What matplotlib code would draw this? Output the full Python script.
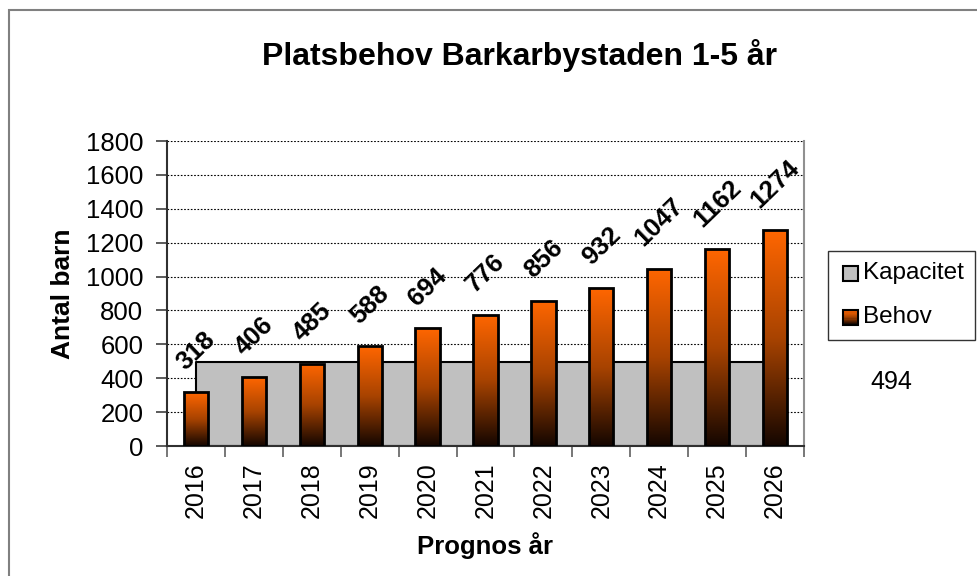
import numpy as np
import matplotlib
matplotlib.use("Agg")
import matplotlib.pyplot as plt
from matplotlib.colors import LinearSegmentedColormap
from matplotlib.patches import Rectangle
from matplotlib.legend_handler import HandlerBase

plt.rcParams['font.family'] = ['Liberation Sans', 'DejaVu Sans']

years = ['2016', '2017', '2018', '2019', '2020', '2021',
         '2022', '2023', '2024', '2025', '2026']
behov = [318, 406, 485, 588, 694, 776, 856, 932, 1047, 1162, 1274]
kapacitet = [494] * len(years)

grad = LinearSegmentedColormap.from_list(
    'behov', [(0.0, '#140600'), (0.5, '#A84300'), (1.0, '#FF6600')])


class GradientHandler(HandlerBase):
    # legend square with the same dark-to-orange fade as the bars
    def create_artists(self, legend, orig, xd, yd, w, h, fontsize, trans):
        s = min(w, h)
        x0 = xd + w - s
        arts = []
        n = 12
        for i in range(n):
            r = Rectangle((x0, yd + s * i / n), s, s / n + 0.2,
                          facecolor=grad((i + 0.5) / n), edgecolor='none',
                          transform=trans)
            arts.append(r)
        arts.append(Rectangle((x0, yd), s, s, facecolor='none',
                              edgecolor='black', lw=1.5, transform=trans))
        return arts


class SquareHandler(HandlerBase):
    def create_artists(self, legend, orig, xd, yd, w, h, fontsize, trans):
        s = min(w, h)
        x0 = xd + w - s
        return [Rectangle((x0, yd), s, s, facecolor='#C0C0C0',
                          edgecolor='black', lw=1.5, transform=trans)]


fig = plt.figure(figsize=(9.78, 5.76), dpi=100)
ax = fig.add_axes([167 / 978, 1 - 446 / 576, 637 / 978, 305 / 576])

x = np.arange(len(years))

# capacity as a grey area behind the bars
area = ax.fill_between(x, 0, kapacitet, facecolor='#C0C0C0',
                       edgecolor='black', lw=1.5, zorder=2)

bars = ax.bar(x, behov, width=0.42, facecolor='none', edgecolor='black',
              lw=2, zorder=4)
g = np.linspace(0, 1, 256).reshape(-1, 1)
for b in bars:
    bx, bw, bh = b.get_x(), b.get_width(), b.get_height()
    im = ax.imshow(g, extent=(bx, bx + bw, 0, bh), origin='lower',
                   aspect='auto', cmap=grad, zorder=3)
    im.set_clip_path(b)

for xi, v in zip(x, behov):
    ax.annotate(str(v), (xi, v), xytext=(0, 18), textcoords='offset pixels',
                ha='center', va='bottom', rotation=44, fontsize=18.5,
                fontweight='bold', zorder=5)

ax.set_xlim(-0.5, len(years) - 0.5)
ax.set_ylim(0, 1800)
ax.set_yticks(range(0, 1801, 200))
ax.set_xticks(x)
ax.set_xticklabels(years, rotation=90)
ax.set_xticks(np.arange(-0.5, len(years), 1), minor=True)
ax.tick_params(axis='x', which='major', length=0, pad=12, labelsize=18)
ax.tick_params(axis='x', which='minor', length=16, direction='inout',
               color='#606060', width=1.2)
ax.tick_params(axis='y', length=8, direction='out', color='#404040',
               width=1.2, labelsize=18.5, pad=9)

ax.grid(axis='y', linestyle=(0, (1.5, 1.5)), color='black', lw=0.8, zorder=1)
ax.set_axisbelow(True)

for side in ['left', 'bottom']:
    ax.spines[side].set_color('#303030')
    ax.spines[side].set_linewidth(1.5)
ax.spines['right'].set_color('#909090')
ax.spines['right'].set_linewidth(1.5)
ax.spines['top'].set_visible(False)

ax.set_ylabel('Antal barn', fontsize=19, fontweight='bold')
ax.yaxis.set_label_coords((75 - 167) / 637, 0.5)
ax.set_xlabel('Prognos år', fontsize=18.5, fontweight='bold')
ax.xaxis.set_label_coords(0.5, (446 - 532) / 305)

fig.text(520 / 978, 1 - 55 / 576, 'Platsbehov Barkarbystaden 1-5 år',
         ha='center', va='center', fontsize=23, fontweight='bold')

h1 = Rectangle((0, 0), 1, 1)
h2 = Rectangle((0, 0), 1, 1)
leg = fig.legend([h1, h2], ['Kapacitet', 'Behov'],
                 handler_map={h1: SquareHandler(), h2: GradientHandler()},
                 loc='upper left', bbox_to_anchor=(828 / 978, 1 - 251 / 576),
                 fontsize=17.5, frameon=True, fancybox=False,
                 edgecolor='black', handlelength=0.75, handleheight=0.55,
                 handletextpad=0.2, borderpad=0.47, labelspacing=0.9,
                 borderaxespad=0)
leg.get_frame().set_linewidth(1)

fig.text(891 / 978, 1 - 382 / 576, '494', ha='center', va='center',
         fontsize=18)

# outer chart border
fig.patches.append(Rectangle((9 / 978, -0.1), 1.2, 1 - 10 / 576 + 0.1,
                             transform=fig.transFigure, facecolor='none',
                             edgecolor='#808080', lw=1.5))

fig.savefig('out.png', dpi=100)
